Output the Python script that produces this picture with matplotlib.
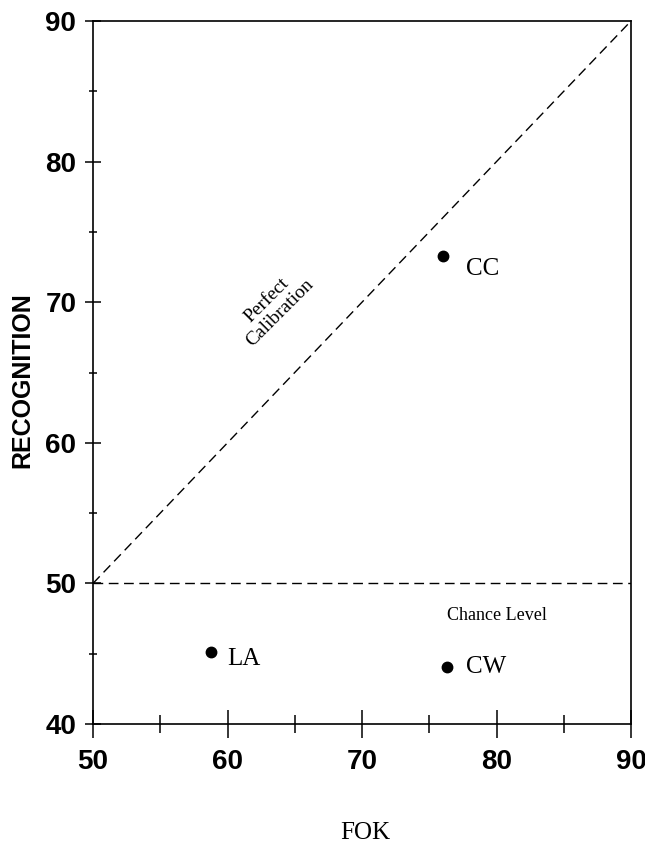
import matplotlib
matplotlib.use("Agg")
import matplotlib.pyplot as plt
from matplotlib.ticker import MultipleLocator

# Data
groups = ["CC", "LA", "CW"]
fok = [76.0, 58.8, 76.3]
recognition = [73.3, 45.1, 44.05]
label_pos = [(77.7, 71.95), (60.0, 44.2), (77.7, 43.6)]

calib_x = [50, 90]
calib_y = [50, 90]
chance_x = [50, 90]
chance_y = [50, 50]

xticks = [50, 60, 70, 80, 90]
yticks = [40, 50, 60, 70, 80, 90]

fig = plt.figure(figsize=(6.45, 8.47), dpi=100)
ax = fig.add_axes([93/645, 1-724/847, (631-93)/645, (724-21)/847])

ax.plot(calib_x, calib_y, color="black", lw=1.0, dashes=(7, 4))
ax.plot(chance_x, chance_y, color="black", lw=1.0, dashes=(7, 4))
ax.plot(fok, recognition, "o", color="black", ms=7.5, ls="none")

serif = "Liberation Serif"
for g, (tx, ty) in zip(groups, label_pos):
    ax.text(tx, ty, g, family=serif, fontsize=18, ha="left", va="baseline")

ax.text(80.0, 47.4, "Chance Level", family=serif, fontsize=13, ha="center", va="baseline")
ax.text(63.4, 69.7, "Perfect\nCalibration", family=serif, fontsize=14,
        ha="center", va="center", rotation=45, rotation_mode="anchor",
        multialignment="center", linespacing=1.1)

ax.set_xlim(50, 90)
ax.set_ylim(40, 90)
ax.set_xticks(xticks)
ax.set_yticks(yticks)
ax.xaxis.set_minor_locator(MultipleLocator(5))
ax.yaxis.set_minor_locator(MultipleLocator(5))

for s in ax.spines.values():
    s.set_linewidth(1.2)

ax.tick_params(axis="x", which="major", direction="inout", length=20, width=1.1, pad=8)
ax.tick_params(axis="x", which="minor", direction="inout", length=13, width=1.1)
ax.tick_params(axis="y", which="major", direction="inout", length=12, width=1.1, pad=6)
ax.tick_params(axis="y", which="minor", direction="inout", length=6, width=1.1)

for lab in ax.get_xticklabels() + ax.get_yticklabels():
    lab.set_family("Liberation Sans")
    lab.set_fontweight("bold")
    lab.set_fontsize(20)

fig.text(22/645, 1-380/847, "RECOGNITION", family="Liberation Sans", fontweight="bold",
         fontsize=18, rotation=90, ha="center", va="center")
fig.text(365/645, 1-833/847, "FOK", family=serif, fontsize=18, ha="center", va="center")

fig.savefig("out.png", dpi=100)
